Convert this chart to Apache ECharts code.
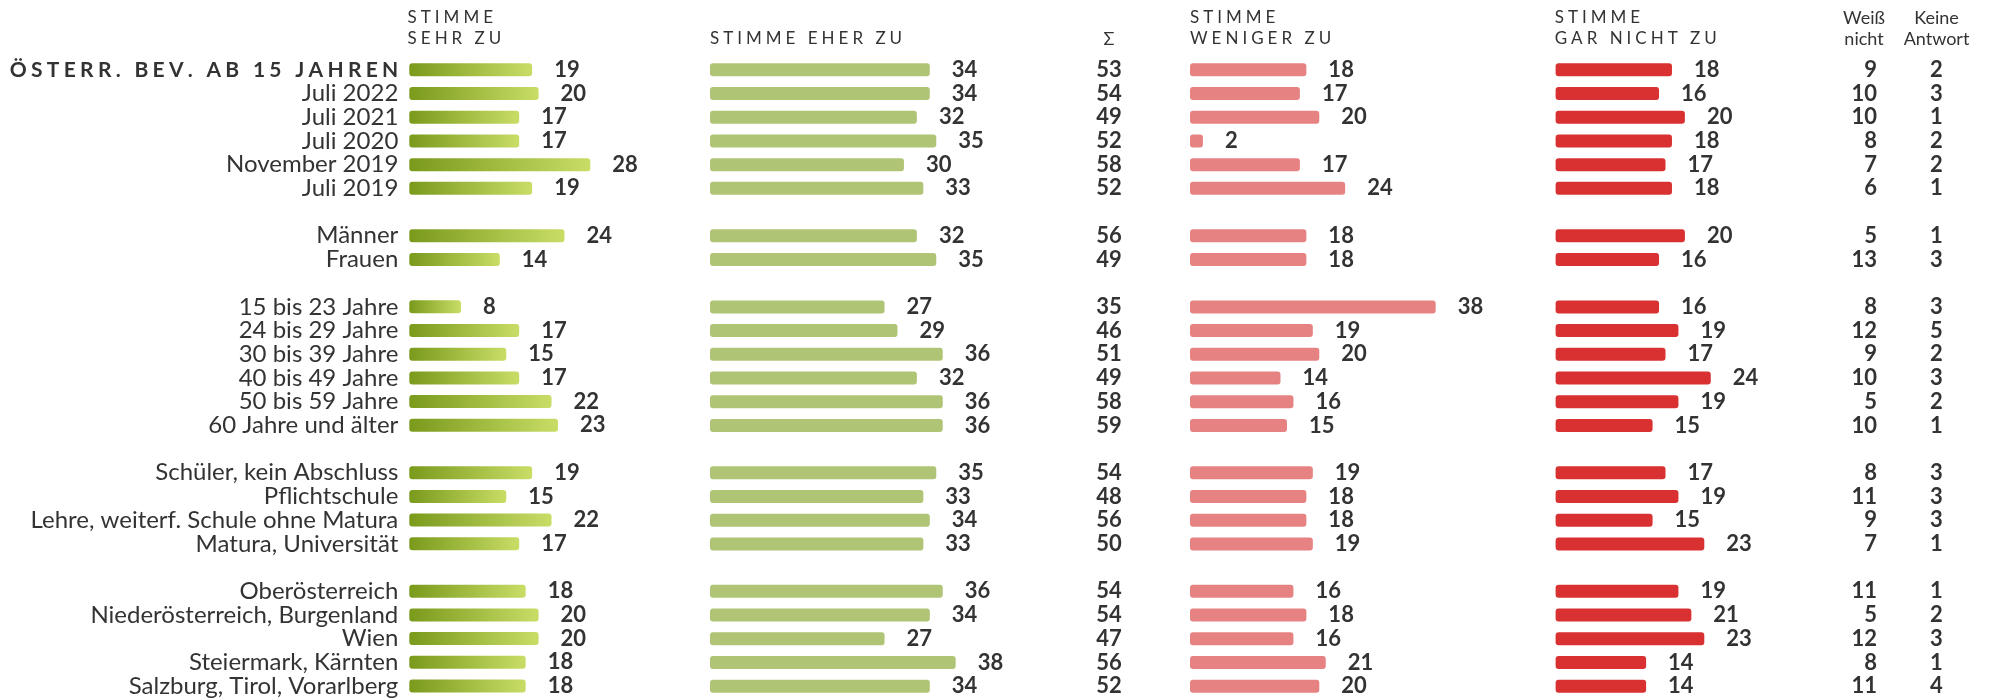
<!DOCTYPE html>
<html>
<head>
<meta charset="utf-8">
<title>Zustimmung</title>
<script src="https://cdn.jsdelivr.net/npm/echarts@6/dist/echarts.min.js"></script>
<style>
  html, body { margin: 0; padding: 0; background: #fff; }
  #chart { width: 1991px; height: 698px; }
</style>
</head>
<body>
<div id="chart"></div>
<script>
// rows, '' = empty spacer row between groups
const rows = [
  'ÖSTERR. BEV. AB 15 JAHREN', 'Juli 2022', 'Juli 2021', 'Juli 2020', 'November 2019', 'Juli 2019', '',
  'Männer', 'Frauen', '',
  '15 bis 23 Jahre', '24 bis 29 Jahre', '30 bis 39 Jahre', '40 bis 49 Jahre', '50 bis 59 Jahre', '60 Jahre und älter', '',
  'Schüler, kein Abschluss', 'Pflichtschule', 'Lehre, weiterf. Schule ohne Matura', 'Matura, Universität', '',
  'Oberösterreich', 'Niederösterreich, Burgenland', 'Wien', 'Steiermark, Kärnten', 'Salzburg, Tirol, Vorarlberg'
];

const sehrZu       = [19, 20, 17, 17, 28, 19, null, 24, 14, null, 8, 17, 15, 17, 22, 23, null, 19, 15, 22, 17, null, 18, 20, 20, 18, 18];
const eherZu       = [34, 34, 32, 35, 30, 33, null, 32, 35, null, 27, 29, 36, 32, 36, 36, null, 35, 33, 34, 33, null, 36, 34, 27, 38, 34];
const summe        = [53, 54, 49, 52, 58, 52, null, 56, 49, null, 35, 46, 51, 49, 58, 59, null, 54, 48, 56, 50, null, 54, 54, 47, 56, 52];
const wenigerZu    = [18, 17, 20, 2, 17, 24, null, 18, 18, null, 38, 19, 20, 14, 16, 15, null, 19, 18, 18, 19, null, 16, 18, 16, 21, 20];
const garNichtZu   = [18, 16, 20, 18, 17, 18, null, 20, 16, null, 16, 19, 17, 24, 19, 15, null, 17, 19, 15, 23, null, 19, 21, 23, 14, 14];
const weissNicht   = [9, 10, 10, 8, 7, 6, null, 5, 13, null, 8, 12, 9, 10, 5, 10, null, 8, 11, 9, 7, null, 11, 5, 12, 8, 11];
const keineAntwort = [2, 3, 1, 2, 2, 1, null, 1, 3, null, 3, 5, 2, 3, 2, 1, null, 3, 3, 3, 1, null, 1, 2, 3, 1, 4];

const barHeaders = ['STIMME\nSEHR ZU', 'STIMME EHER ZU', 'STIMME\nWENIGER ZU', 'STIMME\nGAR NICHT ZU'];
const numHeaders = ['Σ', 'Weiß\nnicht', 'Keine\nAntwort'];

const TEXT = '#333';
const FONT = 'Lato';
const TOP = 58;
const HEIGHT = 640;
const MAXV = 40;
const UNIT = 6.465;

const greenGrad = new echarts.graphic.LinearGradient(0, 0, 1, 0, [
  { offset: 0, color: '#7a9a1c' },
  { offset: 1, color: '#c8dd66' }
]);

const barCols = [
  { left: 409.3, data: sehrZu, color: greenGrad },
  { left: 710, data: eherZu, color: '#b0c475' },
  { left: 1190, data: wenigerZu, color: '#e78282' },
  { left: 1555.6, data: garNichtZu, color: '#d93131' }
];

const numCols = [
  { center: 1109, data: summe, align: 'center', offset: 0 },
  { center: 1864, data: weissNicht, align: 'right', offset: 13 },
  { center: 1936.5, data: keineAntwort, align: 'center', offset: 0 }
];

// letter spaced text through rich tokens (last char of a line without padding)
const spaced = (text, st, stLast) => text.split('\n').map(line => {
  const chars = Array.from(line);
  return chars.map((c, i) => `{${i === chars.length - 1 ? stLast : st}|${c}}`).join('');
}).join('\n');

const grid = [];
const xAxis = [];
const yAxis = [];
const series = [];

const valueLabel = {
  fontFamily: FONT,
  fontSize: 22,
  fontWeight: 'bold',
  color: TEXT
};

barCols.forEach((col, i) => {
  grid.push({ left: col.left, top: TOP, width: UNIT * MAXV, height: HEIGHT });
  xAxis.push({ gridIndex: i, type: 'value', min: 0, max: MAXV, show: false });
  yAxis.push({
    gridIndex: i,
    type: 'category',
    data: rows,
    inverse: true,
    show: i === 0,
    axisLine: { show: false },
    axisTick: { show: false },
    splitLine: { show: false },
    axisLabel: {
      interval: 0,
      margin: 11,
      fontFamily: FONT,
      fontSize: 24,
      color: TEXT,
      formatter: (v, idx) => idx === 0 ? spaced(v, 't', 'tl') : v,
      rich: {
        t: { fontFamily: FONT, fontSize: 21, fontWeight: 'bold', color: TEXT, padding: [0, 4.3, 0, 0] },
        tl: { fontFamily: FONT, fontSize: 21, fontWeight: 'bold', color: TEXT }
      }
    }
  });
  series.push({
    type: 'bar',
    xAxisIndex: i,
    yAxisIndex: i,
    data: col.data,
    barWidth: 13,
    itemStyle: { color: col.color, borderRadius: 3 },
    label: Object.assign({ show: true, position: 'right', distance: 22 }, valueLabel)
  });
});

numCols.forEach((col, k) => {
  const gi = barCols.length + k;
  grid.push({ left: col.center - 20, top: TOP, width: 40, height: HEIGHT });
  xAxis.push({
    gridIndex: gi,
    type: 'category',
    data: [numHeaders[k]],
    position: 'top',
    axisLine: { show: false },
    axisTick: { show: false },
    splitLine: { show: false },
    axisLabel: { interval: 0, margin: 8, fontFamily: FONT, fontSize: 18, lineHeight: 21, color: TEXT }
  });
  yAxis.push({ gridIndex: gi, type: 'category', data: rows, inverse: true, show: false });
  series.push({
    type: 'scatter',
    xAxisIndex: gi,
    yAxisIndex: gi,
    symbolSize: 1,
    itemStyle: { color: 'rgba(0,0,0,0)', opacity: 1 },
    emphasis: { disabled: true },
    data: col.data.map((v, i) => [0, i, v]).filter(d => d[2] != null),
    label: Object.assign({
      show: true,
      position: 'inside',
      align: col.align,
      offset: [col.offset, 0],
      opacity: 1,
      textBorderWidth: 0,
      formatter: p => p.value[2]
    }, valueLabel)
  });
});

const headerLefts = [407.6, 710, 1190, 1554.7];
const headerFont = { fontFamily: FONT, fontSize: 17, fontWeight: 'normal', color: TEXT, lineHeight: 21 };
const title = barHeaders.map((h, i) => ({
  text: spaced(h, 'h', 'hl'),
  left: headerLefts[i],
  top: h.includes('\n') ? 7.4 : 28.4,
  padding: 0,
  textStyle: Object.assign({
    rich: {
      h: Object.assign({ padding: [0, 4.0, 0, 0] }, headerFont),
      hl: Object.assign({}, headerFont)
    }
  }, headerFont)
}));

const chart = echarts.init(document.getElementById('chart'));
chart.setOption({
  animation: false,
  backgroundColor: '#fff',
  title,
  grid,
  xAxis,
  yAxis,
  series
});
</script>
</body>
</html>
